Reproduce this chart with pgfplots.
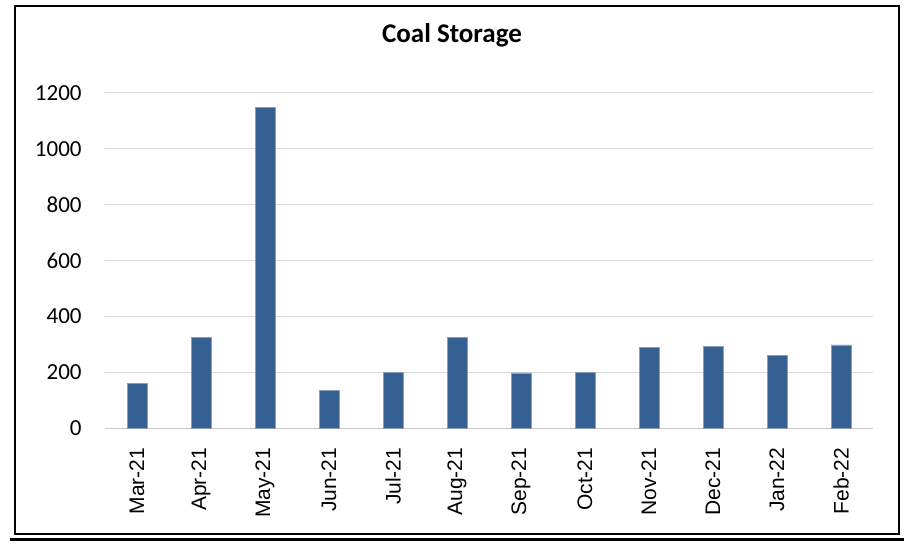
\documentclass[border=0pt]{standalone}
\usepackage{fontspec}
\setmainfont{Carlito}
\newfontfamily\arialf{Liberation Sans}
\usepackage{pgfplots}
\pgfplotsset{compat=1.18}
\definecolor{barblue}{HTML}{366092}
\definecolor{gridgray}{HTML}{D9D9D9}
\definecolor{axgray}{HTML}{C8C8C8}
\begin{document}
\begin{tikzpicture}
\useasboundingbox (0pt,0pt) rectangle (452pt,-271.5pt);
\draw[line width=1pt, black] (7.5pt,-3pt) rectangle (449.5pt,-267pt);
\draw[line width=1.6pt, black] (5pt,-269.8pt) -- (452pt,-269.8pt);
\node[font=\bfseries\fontsize{13.5}{15}\selectfont] at (226pt,-17.5pt) {Coal Storage};
\begin{axis}[
  at={(52.5pt,-214.15pt)}, anchor=south west,
  scale only axis, width=384pt, height=167.8pt,
  xmin=-0.5, xmax=11.5, ymin=0, ymax=1200,
  axis x line*=bottom, axis y line*=left,
  x axis line style={draw=axgray, line width=0.6pt, -},
  y axis line style={draw=none},
  ytick={0,200,...,1200},
  ymajorgrids, grid style={draw=gridgray, line width=0.6pt},
  major y tick style={draw=none},
  y tick label style={font=\fontsize{11.5}{12}\selectfont, /pgf/number format/assume math mode=true, /pgf/number format/1000 sep={}, anchor=east, inner sep=0pt, xshift=-11.5pt},
  xtick={0,...,11},
  xticklabels={Mar-21,Apr-21,May-21,Jun-21,Jul-21,Aug-21,Sep-21,Oct-21,Nov-21,Dec-21,Jan-22,Feb-22},
  major x tick style={draw=none},
  x tick label style={font=\arialf\fontsize{10.5}{12}\selectfont, rotate=90, anchor=east, inner sep=0pt},
  xticklabel shift=9.5pt,
  extra x ticks={-0.5,0.5,...,11.5},
  extra x tick labels={},
  extra x tick style={grid=none, tick align=outside, major tick length=3pt, tick style={draw=axgray, line width=0.6pt}},
  clip=false,
]
\addplot[ybar, bar width=10pt, fill=barblue, draw=barblue!60!white, line width=0.4pt] coordinates {
(0,162) (1,325) (2,1148) (3,137) (4,201) (5,325) (6,198) (7,200) (8,288) (9,293) (10,261) (11,298)
};
\end{axis}
\end{tikzpicture}
\end{document}
